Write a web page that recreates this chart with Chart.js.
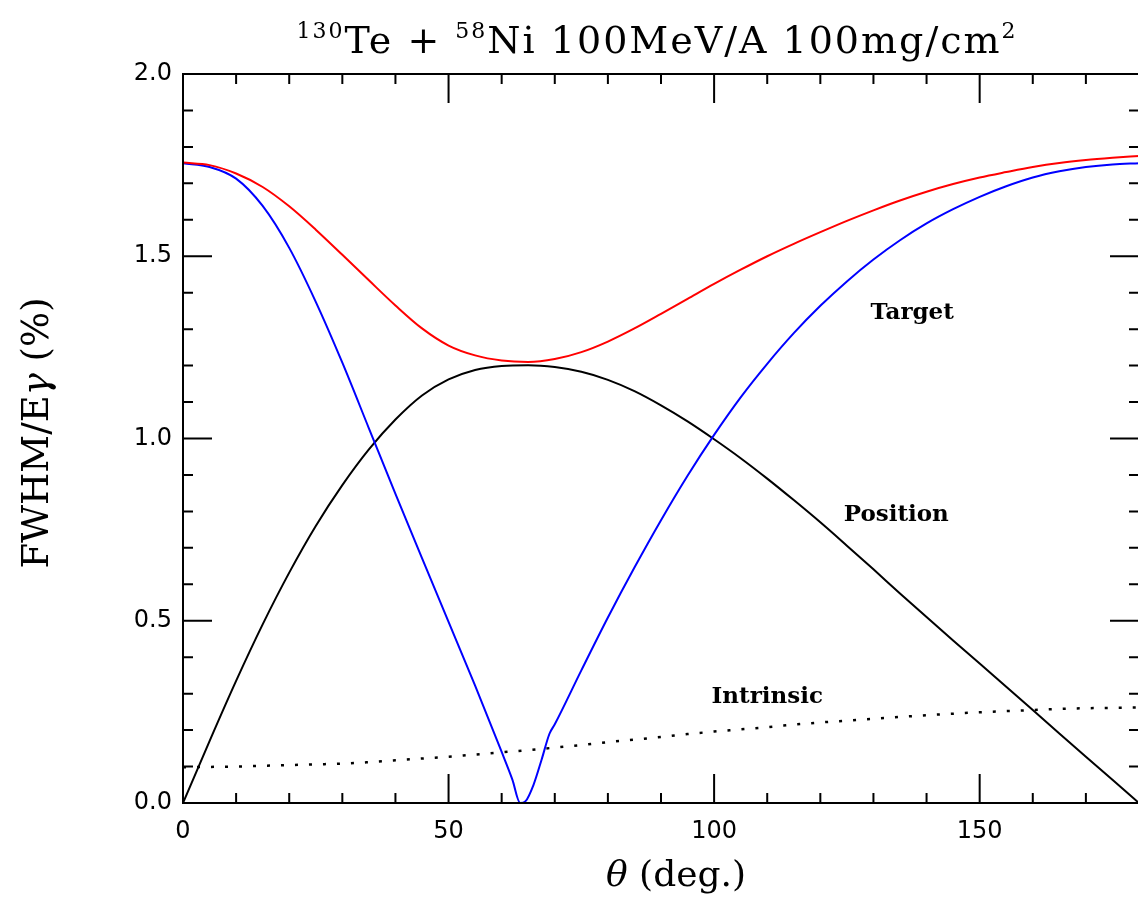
<!DOCTYPE html>
<html>
<head>
<meta charset="utf-8">
<script src="https://cdn.jsdelivr.net/npm/chart.js@4.4.1/dist/chart.umd.min.js"></script>
<style>
  html, body { margin: 0; padding: 0; background: #fff; overflow: hidden; }
  #wrap { position: relative; width: 1140px; height: 899px; }
</style>
</head>
<body>
<div id="wrap"><canvas id="chart"></canvas></div>
<script>
// angle grid (deg.) shared by total, position and intrinsic curves
const theta = [0, 5, 10, 15, 20, 25, 30, 35, 40, 45, 50, 55, 60, 65, 70, 75, 80, 85, 90,
  95, 100, 105, 110, 115, 120, 125, 130, 135, 140, 145, 150, 155, 160, 165, 170, 175, 180]

// total resolution (red)
const totalRes = [1.757, 1.750, 1.727, 1.690, 1.637, 1.573, 1.504, 1.434, 1.365, 1.302, 1.255,
  1.228, 1.214, 1.210, 1.218, 1.237, 1.266, 1.302, 1.342, 1.383, 1.424, 1.463, 1.500, 1.534,
  1.566, 1.597, 1.626, 1.653, 1.677, 1.698, 1.716, 1.731, 1.745, 1.756, 1.764, 1.770, 1.775]

// position contribution (black)
const positionRes = [0, 0.170, 0.335, 0.490, 0.632, 0.760, 0.872, 0.970, 1.052, 1.118, 1.162,
  1.188, 1.199, 1.201, 1.196, 1.183, 1.161, 1.130, 1.091, 1.047, 0.998, 0.946, 0.890, 0.831,
  0.770, 0.706, 0.641, 0.575, 0.510, 0.446, 0.383, 0.319, 0.255, 0.191, 0.127, 0.064, 0]

// intrinsic contribution (dotted)
const intrinsicRes = [0.098, 0.099, 0.100, 0.102, 0.104, 0.106, 0.108, 0.112, 0.117, 0.122,
  0.127, 0.133, 0.139, 0.145, 0.152, 0.159, 0.167, 0.174, 0.181, 0.189, 0.196, 0.202, 0.208,
  0.215, 0.221, 0.226, 0.231, 0.236, 0.241, 0.245, 0.249, 0.252, 0.255, 0.258, 0.260, 0.261, 0.262]

// target contribution (blue) has its own grid, denser around the zero at ~63.5 deg
const targetTheta = [0, 5, 10, 15, 20, 25, 30, 35, 40, 45, 50, 55, 60, 62, 63.5, 64.5, 66, 67.5,
  69, 70, 75, 80, 85, 90, 95, 100, 105, 110, 115, 120, 125, 130, 135, 140, 145, 150, 155, 160,
  165, 170, 175, 180]
const targetRes = [1.755, 1.745, 1.713, 1.638, 1.523, 1.375, 1.208, 1.028, 0.848, 0.672, 0.497,
  0.322, 0.140, 0.065, 0.0, 0.005, 0.050, 0.118, 0.190, 0.216, 0.364, 0.509, 0.646, 0.776,
  0.898, 1.010, 1.113, 1.205, 1.289, 1.364, 1.431, 1.491, 1.544, 1.590, 1.629, 1.663, 1.692,
  1.716, 1.733, 1.745, 1.752, 1.755]

// in-plot curve labels, placed in data units
const curveLabels = ['Target', 'Position', 'Intrinsic']
const curveLabelTheta = [137.3, 134.3, 110]
const curveLabelValue = [1.344, 0.79, 0.29]

const SERIF = '"DejaVu Serif", "Liberation Serif", serif'
const SANS = '"DejaVu Sans", "Liberation Sans", sans-serif'

function toPoints(xs, ys) {
  return xs.map((x, i) => ({ x, y: ys[i] }))
}

// mixed-size text, e.g. superscripts; runs: [{ text, size, dy, style }]
function drawRuns(ctx, runs, cx, y, spacing) {
  const fontOf = (r) => `${r.style || ''} ${r.size}px ${SERIF}`
  ctx.letterSpacing = (spacing || 0) + 'px'
  let total = 0
  runs.forEach((r) => { ctx.font = fontOf(r); total += ctx.measureText(r.text).width })
  let x = cx - total / 2
  ctx.textAlign = 'left'
  ctx.textBaseline = 'alphabetic'
  runs.forEach((r) => {
    ctx.font = fontOf(r)
    ctx.fillText(r.text, x, y + (r.dy || 0))
    x += ctx.measureText(r.text).width
  })
  ctx.letterSpacing = '0px'
}

const frameTicks = {
  id: 'frameTicks',
  afterDatasetsDraw(chart) {
    const { ctx, chartArea: a, scales } = chart
    ctx.save()
    ctx.strokeStyle = '#000'
    ctx.lineWidth = 2
    ctx.strokeRect(a.left, a.top, a.right - a.left, a.bottom - a.top)
    ctx.beginPath()
    for (let v = scales.x.min; v <= scales.x.max + 1e-9; v += 10) {
      const px = scales.x.getPixelForValue(v)
      const len = v % 50 === 0 ? 29 : 10
      ctx.moveTo(px, a.bottom); ctx.lineTo(px, a.bottom - len)
      ctx.moveTo(px, a.top); ctx.lineTo(px, a.top + len)
    }
    for (let i = 0; i <= 20; i++) {
      const py = scales.y.getPixelForValue(i / 10)
      const len = i % 5 === 0 ? 29 : 10
      ctx.moveTo(a.left, py); ctx.lineTo(a.left + len, py)
      ctx.moveTo(a.right, py); ctx.lineTo(a.right - len, py)
    }
    ctx.stroke()

    // curve labels
    ctx.fillStyle = '#000'
    ctx.font = `bold 23px ${SERIF}`
    ctx.textAlign = 'center'
    ctx.textBaseline = 'middle'
    curveLabels.forEach((t, i) => {
      ctx.fillText(t, scales.x.getPixelForValue(curveLabelTheta[i]), scales.y.getPixelForValue(curveLabelValue[i]))
    })

    // title
    drawRuns(ctx, [
      { text: '130', size: 22, dy: -15 },
      { text: 'Te + ', size: 38 },
      { text: '58', size: 22, dy: -15 },
      { text: 'Ni 100MeV/A 100mg/cm', size: 38 },
      { text: '2', size: 22, dy: -15 },
    ], 657, 53, 2)

    // x axis title
    drawRuns(ctx, [
      { text: 'θ', size: 36, style: 'italic' },
      { text: ' (deg.)', size: 36 },
    ], 676, 886)

    // y axis title
    ctx.save()
    ctx.translate(48, 433)
    ctx.rotate(-Math.PI / 2)
    drawRuns(ctx, [
      { text: 'FWHM/E', size: 37 },
      { text: 'γ', size: 37, style: 'italic' },
      { text: ' (%)', size: 37 },
    ], 0, 0)
    ctx.restore()
    ctx.restore()
  },
}

new Chart(document.getElementById('chart'), {
  type: 'line',
  data: {
    datasets: [
      { label: 'Total', data: toPoints(theta, totalRes), borderColor: '#ff0000' },
      { label: 'Target', data: toPoints(targetTheta, targetRes), borderColor: '#0000ff' },
      { label: 'Position', data: toPoints(theta, positionRes), borderColor: '#000000' },
      { label: 'Intrinsic', data: toPoints(theta, intrinsicRes), borderColor: '#000000', borderDash: [3, 11], borderWidth: 2.5 },
    ],
  },
  options: {
    responsive: true,
    maintainAspectRatio: false,
    animation: false,
    layout: { padding: { top: 74, right: 1, left: 0, bottom: 0 } },
    elements: {
      point: { radius: 0 },
      line: { borderWidth: 2, cubicInterpolationMode: 'monotone', fill: false },
    },
    plugins: { legend: { display: false }, tooltip: { enabled: false } },
    scales: {
      x: {
        type: 'linear',
        min: 0,
        max: 180,
        grid: { display: false, drawTicks: false },
        border: { display: false },
        ticks: { stepSize: 50, includeBounds: false, maxRotation: 0, padding: 14, color: '#000', font: { family: SANS, size: 24 } },
        afterFit: (scale) => { scale.height = 96 },
      },
      y: {
        min: 0,
        max: 2,
        grid: { display: false, drawTicks: false },
        border: { display: false },
        ticks: { stepSize: 0.5, padding: 11, color: '#000', font: { family: SANS, size: 24 }, callback: (v) => v.toFixed(1) },
        afterFit: (scale) => { scale.width = 183 },
      },
    },
  },
  plugins: [frameTicks],
})
</script>
</body>
</html>
